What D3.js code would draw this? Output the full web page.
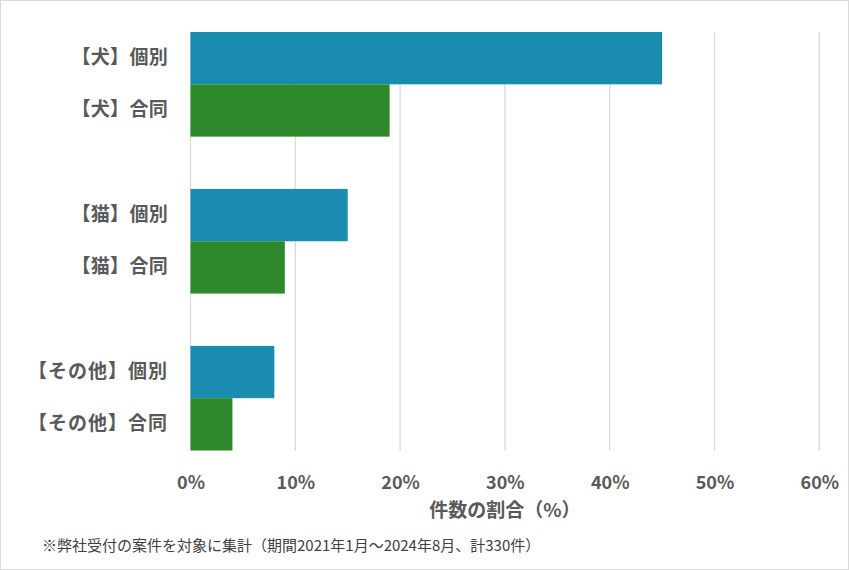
<!DOCTYPE html>
<html><head><meta charset="utf-8">
<script src="https://cdn.jsdelivr.net/npm/d3@7"></script>
<style>
html,body{margin:0;padding:0;background:#fff;}
text{font-family:"Noto Sans CJK JP","Noto Sans",sans-serif;}
</style></head>
<body><svg id="c" width="849" height="570"></svg>
<script>
const groups = ["犬", "猫", "その他"];
const seriesNames = ["個別", "合同"];
const individual = [45, 15, 8];
const joint = [19, 9, 4];
const tickValues = [0, 10, 20, 30, 40, 50, 60];
const axisTitle = "件数の割合（%）";
const footnote = "※弊社受付の案件を対象に集計（期間2021年1月～2024年8月、計330件）";
const colors = ["#1a8cb0", "#2d892c"];

const svg = d3.select("#c");
svg.append("rect").attr("x",0.5).attr("y",0.5).attr("width",848).attr("height",569)
  .attr("fill","#fff").attr("stroke","#d9d9d9");

const plotLeft = 190.5, plotRight = 819.3, plotTop = 32, plotBottom = 450.5;
const x = d3.scaleLinear().domain([0, 60]).range([plotLeft, plotRight]);
const y0 = d3.scaleBand().domain(groups).range([plotTop, plotBottom]).paddingInner(1/3).paddingOuter(0);
const y1 = d3.scaleBand().domain(seriesNames).range([0, y0.bandwidth()]).padding(0);

// gridlines
svg.append("g").selectAll("line").data(tickValues).join("line")
  .attr("x1", d => x(d)).attr("x2", d => x(d))
  .attr("y1", plotTop).attr("y2", plotBottom)
  .attr("stroke", "#d9d9d9").attr("stroke-width", 1.3);

const data = groups.map((g, i) => ({g, vals: [individual[i], joint[i]]}));
const gg = svg.append("g").selectAll("g").data(data).join("g")
  .attr("transform", d => `translate(0,${y0(d.g)})`);
gg.selectAll("rect").data(d => d.vals.map((v, j) => ({g: d.g, s: seriesNames[j], v, j})))
  .join("rect")
  .attr("x", x(0)).attr("y", d => y1(d.s))
  .attr("width", d => x(d.v) - x(0)).attr("height", y1.bandwidth())
  .attr("fill", d => colors[d.j]);

// category labels
gg.selectAll("text").data(d => seriesNames.map(s => ({g: d.g, s})))
  .join("text")
  .attr("x", 168).attr("y", d => y1(d.s) + y1.bandwidth()/2 - 1)
  .attr("dy", "0.36em").attr("text-anchor", "end")
  .attr("font-size", 19).attr("font-weight", "bold").attr("fill", "#595959")
  .attr("letter-spacing", d => d.g.length > 1 ? 1 : 0.3)
  .text(d => `【${d.g}】${d.s}`);

// x axis
const xAxis = d3.axisBottom(x).tickValues(tickValues).tickFormat(d => d + "%").tickSize(0).tickPadding(0);
const ax = svg.append("g").attr("transform", `translate(0,${plotBottom})`).call(xAxis);
ax.select(".domain").remove();
ax.selectAll("text").attr("y", 38).attr("dy", 0)
  .attr("font-size", 18).attr("font-weight", "bold").attr("fill", "#595959")
  .attr("font-family", "'Noto Sans CJK JP','Noto Sans',sans-serif");

svg.append("text").attr("x", (plotLeft + plotRight)/2).attr("y", 517).attr("text-anchor", "middle")
  .attr("font-size", 19).attr("font-weight", "bold").attr("fill", "#595959").text(axisTitle);

svg.append("text").attr("x", 42).attr("y", 551)
  .attr("font-size", 15).attr("fill", "#404040").text(footnote);
</script></body></html>
